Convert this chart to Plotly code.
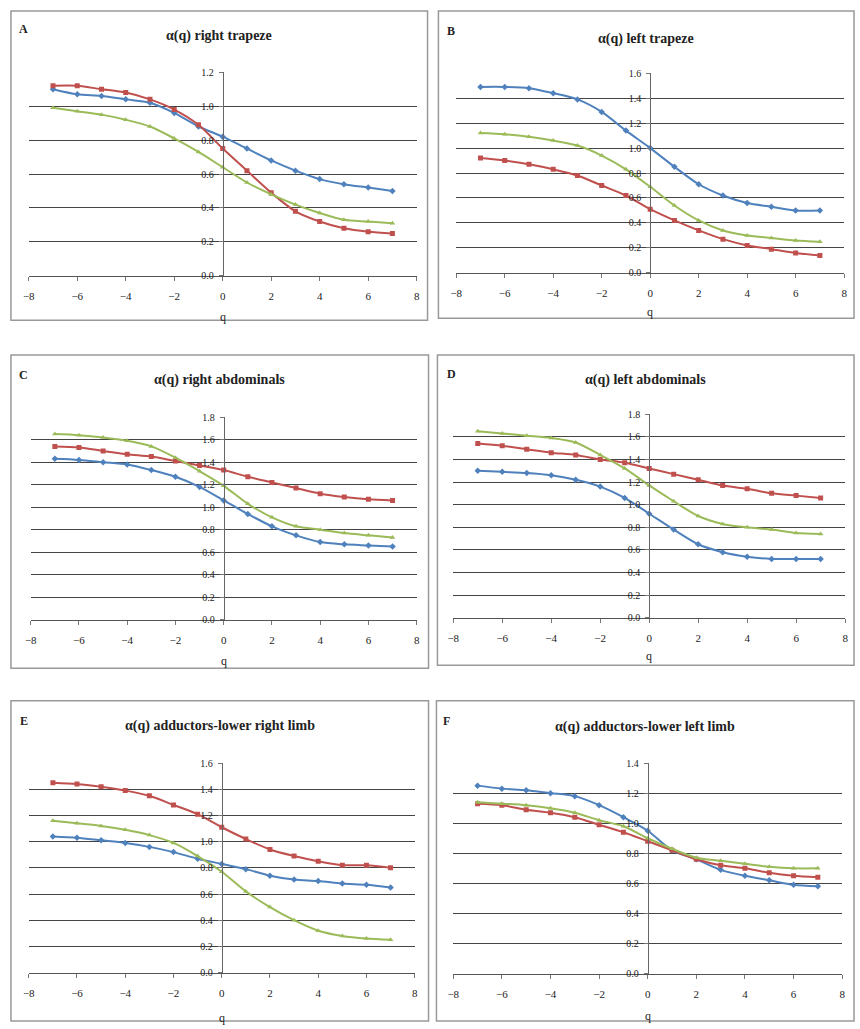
import plotly.graph_objects as go

W, H = 860, 1029
q = [-7, -6, -5, -4, -3, -2, -1, 0, 1, 2, 3, 4, 5, 6, 7]

# Panel A: right trapeze
A_blue = [1.10, 1.07, 1.06, 1.04, 1.02, 0.96, 0.88, 0.82, 0.75, 0.68, 0.62, 0.57, 0.54, 0.52, 0.50]
A_red = [1.12, 1.12, 1.10, 1.08, 1.04, 0.98, 0.89, 0.75, 0.62, 0.49, 0.38, 0.32, 0.28, 0.26, 0.25]
A_green = [0.99, 0.97, 0.95, 0.92, 0.88, 0.81, 0.73, 0.64, 0.55, 0.48, 0.42, 0.37, 0.33, 0.32, 0.31]
# Panel B: left trapeze
B_blue = [1.49, 1.49, 1.48, 1.44, 1.39, 1.29, 1.14, 1.00, 0.85, 0.71, 0.62, 0.56, 0.53, 0.50, 0.50]
B_red = [0.92, 0.90, 0.87, 0.83, 0.78, 0.70, 0.62, 0.51, 0.42, 0.34, 0.27, 0.22, 0.19, 0.16, 0.14]
B_green = [1.12, 1.11, 1.09, 1.06, 1.02, 0.94, 0.83, 0.69, 0.54, 0.42, 0.34, 0.30, 0.28, 0.26, 0.25]
# Panel C: right abdominals
C_blue = [1.43, 1.42, 1.40, 1.38, 1.33, 1.27, 1.18, 1.06, 0.94, 0.83, 0.75, 0.69, 0.67, 0.66, 0.65]
C_red = [1.54, 1.53, 1.50, 1.47, 1.45, 1.41, 1.37, 1.33, 1.27, 1.22, 1.17, 1.12, 1.09, 1.07, 1.06]
C_green = [1.65, 1.64, 1.62, 1.59, 1.54, 1.44, 1.32, 1.19, 1.03, 0.91, 0.83, 0.80, 0.77, 0.75, 0.73]
# Panel D: left abdominals
D_blue = [1.30, 1.29, 1.28, 1.26, 1.22, 1.16, 1.06, 0.92, 0.78, 0.65, 0.58, 0.54, 0.52, 0.52, 0.52]
D_red = [1.54, 1.52, 1.49, 1.46, 1.44, 1.40, 1.37, 1.32, 1.27, 1.22, 1.17, 1.14, 1.10, 1.08, 1.06]
D_green = [1.65, 1.63, 1.61, 1.59, 1.55, 1.44, 1.32, 1.17, 1.03, 0.90, 0.83, 0.80, 0.78, 0.75, 0.74]
# Panel E: adductors lower right limb
E_blue = [1.04, 1.03, 1.01, 0.99, 0.96, 0.92, 0.87, 0.83, 0.79, 0.74, 0.71, 0.70, 0.68, 0.67, 0.65]
E_red = [1.45, 1.44, 1.42, 1.39, 1.35, 1.28, 1.21, 1.11, 1.02, 0.94, 0.89, 0.85, 0.82, 0.82, 0.80]
E_green = [1.16, 1.14, 1.12, 1.09, 1.05, 0.99, 0.89, 0.77, 0.62, 0.50, 0.40, 0.32, 0.28, 0.26, 0.25]
# Panel F: adductors lower left limb
F_blue = [1.25, 1.23, 1.22, 1.20, 1.18, 1.12, 1.04, 0.95, 0.82, 0.76, 0.69, 0.65, 0.62, 0.59, 0.58]
F_red = [1.13, 1.12, 1.09, 1.07, 1.04, 0.99, 0.94, 0.88, 0.82, 0.76, 0.72, 0.70, 0.67, 0.65, 0.64]
F_green = [1.14, 1.13, 1.12, 1.10, 1.07, 1.02, 0.98, 0.90, 0.83, 0.77, 0.75, 0.73, 0.71, 0.70, 0.70]

titles = ["α(q) right trapeze", "α(q) left trapeze", "α(q) right abdominals",
          "α(q) left abdominals", "α(q) adductors-lower right limb", "α(q) adductors-lower left limb"]
letters = ["A", "B", "C", "D", "E", "F"]
ymax = [1.2, 1.6, 1.8, 1.8, 1.6, 1.4]
series = [(A_blue, A_red, A_green), (B_blue, B_red, B_green), (C_blue, C_red, C_green),
          (D_blue, D_red, D_green), (E_blue, E_red, E_green), (F_blue, F_red, F_green)]

# layout geometry in pixels
plot_x = [(23, 415), (455, 847), (25, 415), (452, 848), (23, 413), (452, 845)]
plot_y = [(67, 273), (68, 270), (416, 621), (413, 619), (766, 978), (766, 979)]
boxes = [(5, 5, 426, 318), (437, 5, 857, 316), (5, 353, 427, 670),
         (436, 353, 857, 667), (5, 703, 427, 1027), (435, 703, 857, 1027)]
title_y = [30, 33, 378, 378, 728, 730]
letter_pos = [(18, 23), (450, 25), (18, 373), (450, 372), (18, 723), (445, 723)]
q_y = [315, 310, 663, 658, 1024, 1022]

colors = ["#4F81BD", "#C0504D", "#9BBB59"]
symbols = ["diamond", "square", "triangle-up"]
serif = "Liberation Serif"

fig = go.Figure()
layout = dict(width=W, height=H, margin=dict(l=0, r=0, t=0, b=0), showlegend=False,
              plot_bgcolor="white", paper_bgcolor="white")
annotations = []
shapes = []

for i in range(6):
    n = "" if i == 0 else str(i + 1)
    x0, x1 = plot_x[i]
    ytop, ybot = plot_y[i]
    for s, col, sym in zip(series[i], colors, symbols):
        fig.add_trace(go.Scatter(x=q, y=s, mode="lines+markers", xaxis="x" + n, yaxis="y" + n,
                                 line=dict(color=col, width=2, shape="spline", smoothing=0.8),
                                 marker=dict(color=col, size=5, symbol=sym)))
    dom_x = [x0 / W, x1 / W]
    dom_y = [1 - ybot / H, 1 - ytop / H]
    layout["xaxis" + n] = dict(domain=dom_x, range=[-8, 8], anchor="y" + n, dtick=2, tick0=-8,
                               showgrid=False, zeroline=False, showline=True, linecolor="#555",
                               linewidth=1.3, ticks="outside", ticklen=4, tickcolor="#777",
                               ticklabelstandoff=6,
                               tickfont=dict(family=serif, size=11, color="#222"))
    layout["yaxis" + n] = dict(domain=dom_y, range=[0, ymax[i]], anchor="free",
                               position=((x0 + x1) / 2) / W, dtick=0.2, tickformat=".1f",
                               showgrid=True, gridcolor="#444", gridwidth=1.3, zeroline=False,
                               showline=True, linecolor="#666", linewidth=1, ticks="outside",
                               ticklen=4, tickcolor="#777", ticklabelstandoff=3,
                               tickfont=dict(family=serif, size=10, color="#222"))
    bx0, by0, bx1, by1 = boxes[i]
    shapes.append(dict(type="rect", xref="paper", yref="paper", x0=bx0 / W, x1=bx1 / W,
                       y0=1 - by1 / H, y1=1 - by0 / H, line=dict(color="#999", width=1.5),
                       layer="below"))
    annotations.append(dict(text="<b>" + titles[i] + "</b>", xref="paper", yref="paper",
                            x=((bx0 + bx1) / 2) / W, y=1 - title_y[i] / H, showarrow=False,
                            xanchor="center", yanchor="middle",
                            font=dict(family=serif, size=14, color="#222")))
    lx, ly = letter_pos[i]
    annotations.append(dict(text="<b>" + letters[i] + "</b>", xref="paper", yref="paper",
                            x=lx / W, y=1 - ly / H, showarrow=False, xanchor="center",
                            yanchor="middle", font=dict(family=serif, size=12, color="#222")))
    annotations.append(dict(text="q", xref="paper", yref="paper", x=((x0 + x1) / 2) / W,
                            y=1 - q_y[i] / H, showarrow=False, xanchor="center", yanchor="middle",
                            font=dict(family=serif, size=12, color="#222")))

layout["annotations"] = annotations
layout["shapes"] = shapes
fig.update_layout(**layout)
fig.write_html("out.html")
